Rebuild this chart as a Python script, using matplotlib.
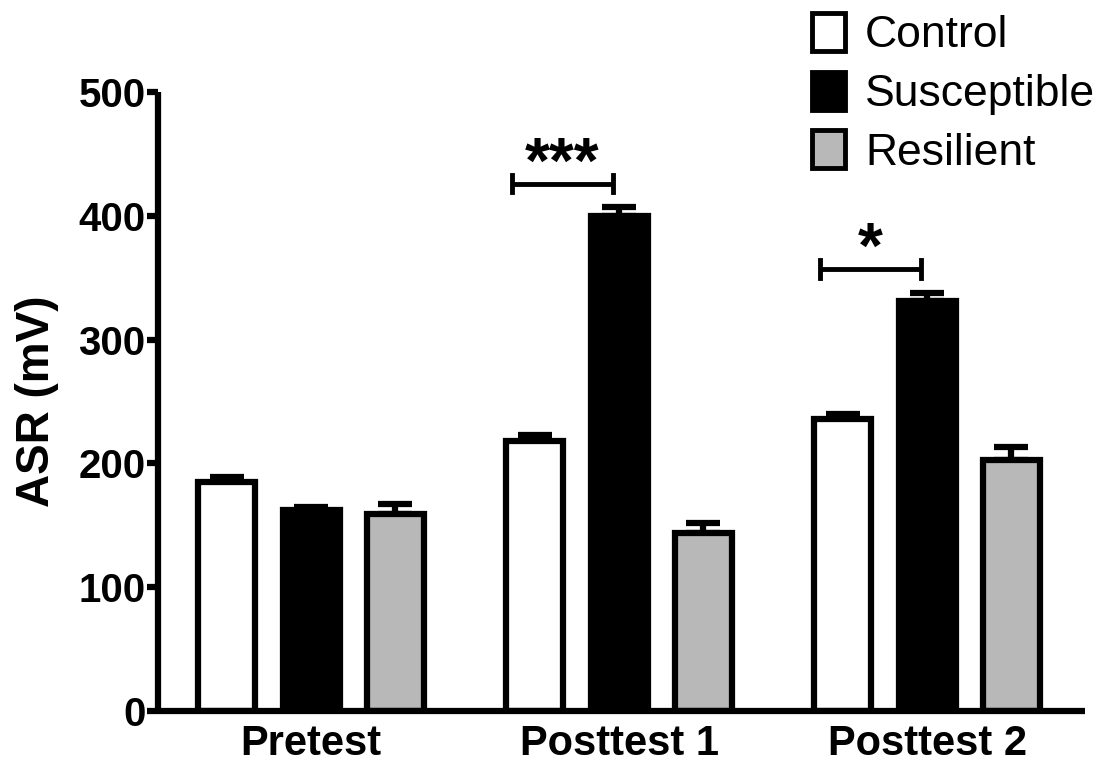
import matplotlib
matplotlib.use("Agg")
import matplotlib.pyplot as plt
import numpy as np

plt.rcParams['font.family'] = ['Liberation Sans', 'DejaVu Sans']

# datos
grupos = ['Pretest', 'Posttest 1', 'Posttest 2']
series = ['Control', 'Susceptible', 'Resilient']
control = [185, 218, 236]
susceptible = [162, 400, 331]
resilient = [159, 144, 203]
err_control = [4, 5, 4]
err_susceptible = [3, 7, 7]
err_resilient = [8, 8, 10]
# comparaciones significativas: (indice de grupo, etiqueta)
signif = [(1, '***'), (2, '*')]

colores = ['white', 'black', '#b8b8b8']
lw = 4.5

fig = plt.figure(figsize=(11.03, 7.66), dpi=100)
ax = fig.add_axes([0.1432, 0.0718, 0.8405, 0.8081])

x = np.arange(len(grupos))
desp = 0.273
ancho = 0.185

valores = [control, susceptible, resilient]
errores = [err_control, err_susceptible, err_resilient]

for i, (nombre, vals, errs, col) in enumerate(zip(series, valores, errores, colores)):
    pos = x + (i - 1) * desp
    ax.errorbar(pos, vals, yerr=[np.zeros(len(errs)), errs], fmt='none',
                ecolor='black', elinewidth=lw, capsize=12.5, capthick=lw, zorder=1)
    ax.bar(pos, vals, width=ancho, color=col, edgecolor='black',
           linewidth=lw, label=nombre, zorder=2)

# corchetes de significancia entre Control y Susceptible
for g, etiqueta in signif:
    x1 = x[g] - desp - 0.075
    x2 = x[g] - 0.02
    y = susceptible[g] + err_susceptible[g] + 19
    ax.plot([x1, x2], [y, y], color='black', lw=3.5, solid_capstyle='butt')
    ax.plot([x1, x1], [y - 7, y + 7], color='black', lw=3.5)
    ax.plot([x2, x2], [y - 7, y + 7], color='black', lw=3.5)
    ax.text((x1 + x2) / 2, y + 1, etiqueta, ha='center', va='baseline',
            fontsize=46, fontweight='bold')

ax.set_xlim(-0.497, 2.513)
ax.set_ylim(0, 500)
ax.set_yticks([0, 100, 200, 300, 400, 500])
ax.set_xticks(x)
ax.set_xticklabels(grupos, fontsize=30, fontweight='bold')
for t in ax.get_yticklabels():
    t.set_fontsize(29)
    t.set_fontweight('bold')
ax.tick_params(axis='y', direction='out', length=8, width=lw, pad=1)
ax.tick_params(axis='x', length=0, pad=9)
ax.set_ylabel('ASR (mV)', fontsize=33, fontweight='bold', labelpad=14)

for lado in ['top', 'right']:
    ax.spines[lado].set_visible(False)
for lado in ['left', 'bottom']:
    ax.spines[lado].set_linewidth(lw)
    ax.spines[lado].set_capstyle('butt')

leg = ax.legend(loc='upper left', bbox_to_anchor=(812 / 1103, 1 - 13 / 766),
                bbox_transform=fig.transFigure, frameon=False, fontsize=32,
                handlelength=0.74, handleheight=0.95, handletextpad=0.45,
                labelspacing=0.34, borderpad=0, borderaxespad=0)
for h in leg.legend_handles:
    h.set_linewidth(3.5)

fig.savefig('out.png', dpi=100)
